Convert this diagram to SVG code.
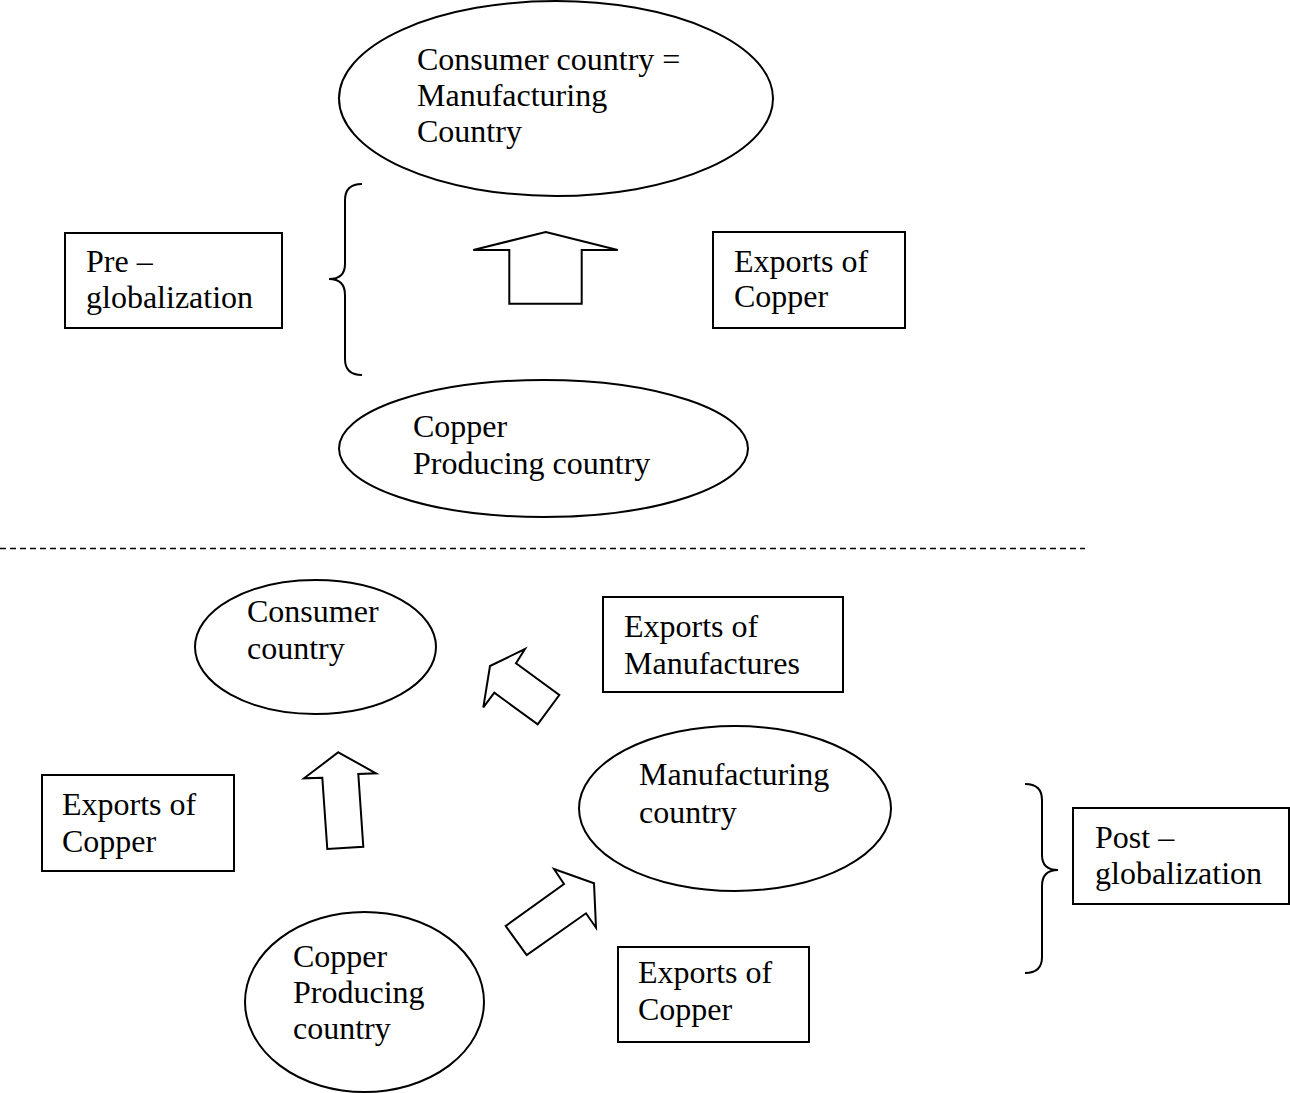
<svg xmlns="http://www.w3.org/2000/svg" width="1290" height="1093" viewBox="0 0 1290 1093">
<style>
.shape{fill:#fff;stroke:#000;stroke-width:2}
.line{fill:none;stroke:#000;stroke-width:2}
text{font-family:"Liberation Serif","Times New Roman",serif;font-size:32px;fill:#000}
</style>
<rect width="1290" height="1093" fill="#fff"/>
<g id="connectors">
<path class="line" d="M362,184 Q345,184 345,200 L345,264 Q345,279 329,279 Q345,279 345,295 L345,359 Q345,375 362,375"/>
<path class="line" d="M1025,784 Q1042,784 1042,800 L1042,855 Q1042,870 1058,870 Q1042,870 1042,886 L1042,957 Q1042,973 1025,973"/>
<line x1="0" y1="548.5" x2="1085" y2="548.5" stroke="#000" stroke-width="1.6" stroke-dasharray="6 4"/>
<polygon id="arrow-pre" class="shape" points="545.7,232 617.7,250 581.7,250 581.7,303.7 509.3,303.7 509.3,250 473.3,250"/>
<polygon id="arrow-manuf" class="shape" points="525,649 516,663.3 559.3,695 537.7,724.3 494.3,692.7 483.3,707.3 490,666"/>
<polygon id="arrow-copper-up" class="shape" points="338.3,752.3 376,773.3 358.3,774 363.3,846.7 327.3,849 322.3,777.7 304,778.3"/>
<polygon id="arrow-copper-right" class="shape" points="594,883.3 596,927.7 586,913.3 526.7,955 505.7,926 564,884 554,869"/>
</g>
<g id="consumer-manufacturing">
<ellipse class="shape" cx="556" cy="98.5" rx="217" ry="97.5"/>
<text x="417" y="70">Consumer country =</text>
<text x="417" y="106">Manufacturing</text>
<text x="417" y="142">Country</text>
</g>
<g id="copper-producing-pre">
<ellipse class="shape" cx="543.5" cy="448.5" rx="204.5" ry="68.5"/>
<text x="413" y="437">Copper</text>
<text x="413" y="474">Producing country</text>
</g>
<g id="pre-globalization">
<rect class="shape" x="65" y="233" width="217" height="95"/>
<text x="86" y="272">Pre –</text>
<text x="86" y="308">globalization</text>
</g>
<g id="exports-copper-pre">
<rect class="shape" x="713" y="232" width="192" height="96"/>
<text x="734" y="272">Exports of</text>
<text x="734" y="307">Copper</text>
</g>
<g id="consumer-country">
<ellipse class="shape" cx="315.5" cy="647" rx="120.5" ry="67"/>
<text x="247" y="622">Consumer</text>
<text x="247" y="659">country</text>
</g>
<g id="exports-manufactures">
<rect class="shape" x="603" y="597" width="240" height="95"/>
<text x="624" y="637">Exports of</text>
<text x="624" y="674">Manufactures</text>
</g>
<g id="manufacturing-country">
<ellipse class="shape" cx="735" cy="808.5" rx="156" ry="82.5"/>
<text x="639" y="785">Manufacturing</text>
<text x="639" y="823">country</text>
</g>
<g id="exports-copper-left">
<rect class="shape" x="42" y="775" width="192" height="96"/>
<text x="62" y="815">Exports of</text>
<text x="62" y="852">Copper</text>
</g>
<g id="post-globalization">
<rect class="shape" x="1073" y="808" width="216" height="96"/>
<text x="1095" y="848">Post –</text>
<text x="1095" y="884">globalization</text>
</g>
<g id="copper-producing-post">
<ellipse class="shape" cx="364.5" cy="1002" rx="119.5" ry="90"/>
<text x="293" y="967">Copper</text>
<text x="293" y="1003">Producing</text>
<text x="293" y="1039">country</text>
</g>
<g id="exports-copper-bottom">
<rect class="shape" x="618" y="947" width="191" height="95"/>
<text x="638" y="983">Exports of</text>
<text x="638" y="1020">Copper</text>
</g>
</svg>
